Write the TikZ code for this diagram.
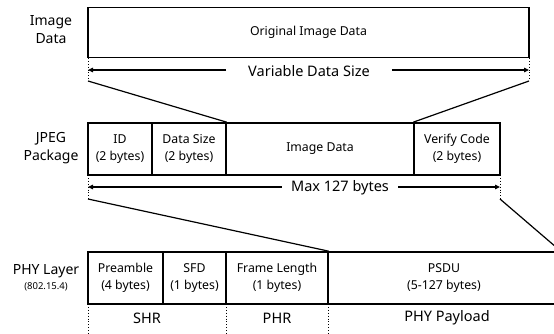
\documentclass[tikz,border=0pt]{standalone}
\usepackage{fontspec}
\setmainfont{Noto Sans}
\usetikzlibrary{arrows.meta}
\begin{document}
\begin{tikzpicture}[x=1pt,y=-1pt,
  cell/.style={draw, line width=1.6pt, inner sep=0pt, align=center,
    font=\fontsize{12.3}{16.5}\selectfont},
  lbl/.style={align=center, font=\fontsize{14}{18}\selectfont, inner sep=0pt},
  meas/.style={font=\fontsize{14.5}{16}\selectfont, inner ysep=0pt},
  dotl/.style={line width=0.9pt, dotted},
  conn/.style={line width=1.2pt},
  arr/.style={line width=1.1pt, -{Triangle[length=5pt,width=4.5pt]}}]
\useasboundingbox (0,0) rectangle (554,334);
\clip (0,0) rectangle (554,334);

% left labels
\node[lbl] (limg) at (51,30) {Image\\Data};
\node[lbl] (ljpeg) at (51,148) {JPEG\\Package};
\node[lbl] (lphy) at (46,271) {PHY Layer};
\node[font=\fontsize{9.5}{10}\selectfont, inner sep=0pt] (lstd) at (46,287) {(802.15.4)};

% image data row
\node[cell, minimum width=441pt, minimum height=50pt] (orig) at (308.5,32.5) {Original Image Data};
\coordinate (o1) at (88,58);
\coordinate (o2) at (88,81);
\coordinate (o3) at (529,58);
\coordinate (o4) at (529,81);
\draw[dotl] (o1) -- (o2);
\draw[dotl] (o3) -- (o4);
\node[meas, inner xsep=22pt] (vds) at (309,71) {Variable Data Size};
\coordinate (va) at (88,70);
\coordinate (vb) at (529,70);
\draw[arr] (vds.west |- va) -- (va);
\draw[arr] (vds.east |- vb) -- (vb);

% JPEG row
\node[cell, minimum width=64pt, minimum height=52pt] (id) at (120,149) {ID\\(2 bytes)};
\node[cell, minimum width=74pt, minimum height=52pt] (ds) at (189,149) {Data Size\\(2 bytes)};
\node[cell, minimum width=188pt, minimum height=52pt] (imd) at (320,149) {Image Data};
\node[cell, minimum width=86pt, minimum height=52pt] (vc) at (457,149) {Verify Code\\(2 bytes)};
\draw[conn] (o2) -- (ds.north east);
\draw[conn] (o4) -- (vc.north west);

\coordinate (j1) at (88,175);
\coordinate (j2) at (88,199);
\coordinate (j3) at (500,175);
\coordinate (j4) at (500,199);
\draw[dotl] (j1) -- (j2);
\draw[dotl] (j3) -- (j4);
\node[meas, inner xsep=9pt] (mx) at (340,188) {Max 127 bytes};
\coordinate (ma) at (88,187);
\coordinate (mb) at (500,187);
\draw[arr] (mx.west |- ma) -- (ma);
\draw[arr] (mx.east |- mb) -- (mb);

% PHY row
\node[cell, minimum width=75pt, minimum height=52pt] (pre) at (125.5,278) {Preamble\\(4 bytes)};
\node[cell, minimum width=63pt, minimum height=52pt] (sfd) at (194.5,278) {SFD\\(1 bytes)};
\node[cell, minimum width=102pt, minimum height=52pt] (fl) at (277,278) {Frame Length\\(1 bytes)};
\node[cell, minimum width=232pt, minimum height=52pt] (psdu) at (444,278) {PSDU\\(5-127 bytes)};
\draw[conn] (j2) -- (fl.north east);
\draw[conn] (j4) -- (psdu.north east);

\coordinate (p1) at (88,304);
\coordinate (p2) at (88,334);
\coordinate (p3) at (226,304);
\coordinate (p4) at (226,334);
\coordinate (p5) at (328,304);
\coordinate (p6) at (328,334);
\draw[dotl] (p1) -- (p2);
\draw[dotl] (p3) -- (p4);
\draw[dotl] (p5) -- (p6);
\node[meas] (shr) at (147,318) {SHR};
\node[meas] (phr) at (277,318) {PHR};
\node[meas] (pay) at (447,318) {PHY Payload};
\end{tikzpicture}
\end{document}
